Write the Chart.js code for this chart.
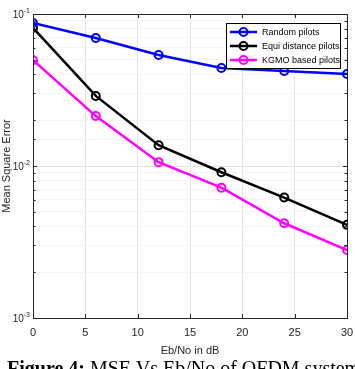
<!DOCTYPE html>
<html>
<head>
<meta charset="utf-8">
<script src="https://cdn.jsdelivr.net/npm/chart.js@4"></script>
<style>
  body { margin: 0; background: #fff; }
  #wrap { position: relative; width: 355px; height: 369px; overflow: hidden; }
  #caption { position: absolute; left: 7px; top: 358px; white-space: nowrap; line-height: 20px;
    font-family: "Liberation Serif", "Times New Roman", serif; font-size: 20px; color: #000; }
</style>
</head>
<body>
<div id="wrap">
  <canvas id="mseChart" width="355" height="369"></canvas>
  <div id="caption"><b>Figure 4:</b> MSE Vs Eb/No of OFDM system</div>
</div>
<script>
// Data
const ebNo = [0, 6, 12, 18, 24, 30];
const randomPilots = [0.0873, 0.0695, 0.0537, 0.0441, 0.0422, 0.0403];
const equiPilots = [0.081, 0.0289, 0.0137, 0.0091, 0.0062, 0.0041];
const kgmoPilots = [0.0497, 0.0213, 0.0106, 0.0072, 0.0042, 0.0028];
const seriesNames = ['Random pilots', 'Equi distance pilots', 'KGMO based pilots'];
const seriesColors = ['#0000ff', '#000000', '#ff00ff'];
const yTickBase = '10';
const yTickExps = { '-1': '-1', '-2': '-2', '-3': '-3' };

const FONT = '"Liberation Sans", Arial, sans-serif';

function makeDataset(i, values) {
  return {
    label: seriesNames[i],
    data: ebNo.map((x, k) => ({ x: x, y: values[k] })),
    borderColor: seriesColors[i],
    backgroundColor: 'rgba(0,0,0,0)',
    pointBorderColor: seriesColors[i],
    pointBackgroundColor: 'rgba(0,0,0,0)',
    borderWidth: 2.5,
    pointRadius: 4,
    pointBorderWidth: 2,
    tension: 0
  };
}

function isMajor(v) {
  const l = Math.log10(v);
  return Math.abs(l - Math.round(l)) < 1e-9;
}

// inward tick marks, box border, power-of-ten labels and legend like MATLAB
const matlabFrame = {
  id: 'matlabFrame',
  afterDraw(chart) {
    const ctx = chart.ctx;
    const a = chart.chartArea;
    const xs = chart.scales.x, ys = chart.scales.y;
    ctx.save();
    ctx.strokeStyle = '#262626';
    ctx.lineWidth = 1;
    ctx.beginPath();
    xs.ticks.forEach(t => {
      const px = Math.round(xs.getPixelForValue(t.value)) + 0.5;
      ctx.moveTo(px, a.bottom); ctx.lineTo(px, a.bottom - 4);
      ctx.moveTo(px, a.top); ctx.lineTo(px, a.top + 4);
    });
    ys.ticks.forEach(t => {
      const py = Math.round(ys.getPixelForValue(t.value)) + 0.5;
      const len = isMajor(t.value) ? 4 : 2.5;
      ctx.moveTo(a.left, py); ctx.lineTo(a.left + len, py);
      ctx.moveTo(a.right, py); ctx.lineTo(a.right - len, py);
    });
    ctx.stroke();
    ctx.strokeRect(Math.round(a.left) + 0.5, Math.round(a.top) + 0.5,
      Math.round(a.right - a.left), Math.round(a.bottom - a.top));

    // y tick labels 10^n
    ctx.fillStyle = '#262626';
    ys.ticks.forEach(t => {
      if (!isMajor(t.value)) return;
      const exp = yTickExps[String(Math.round(Math.log10(t.value)))];
      if (!exp) return;
      const py = ys.getPixelForValue(t.value);
      ctx.font = '7px ' + FONT;
      ctx.textAlign = 'right';
      ctx.textBaseline = 'alphabetic';
      const ew = ctx.measureText(exp).width;
      const right = a.left - 3;
      ctx.fillText(exp, right, py - 1);
      ctx.font = '10px ' + FONT;
      ctx.fillText(yTickBase, right - ew, py + 4);
    });

    // legend box
    const lx = 226, ly = 23, lw = 114, lh = 45;
    ctx.fillStyle = '#fff';
    ctx.fillRect(lx, ly, lw, lh);
    ctx.strokeStyle = '#000';
    ctx.lineWidth = 1;
    ctx.strokeRect(lx + 0.5, ly + 0.5, lw, lh);
    ctx.font = '9px ' + FONT;
    ctx.textAlign = 'left';
    ctx.textBaseline = 'middle';
    chart.data.datasets.forEach((ds, i) => {
      const y = ly + 9 + i * 14;
      ctx.strokeStyle = ds.borderColor;
      ctx.lineWidth = 2.5;
      ctx.beginPath();
      ctx.moveTo(lx + 4, y); ctx.lineTo(lx + 31, y);
      ctx.stroke();
      ctx.lineWidth = 2;
      ctx.beginPath();
      ctx.arc(lx + 17.5, y, 4, 0, Math.PI * 2);
      ctx.stroke();
      ctx.fillStyle = '#000';
      ctx.fillText(ds.label, lx + 36, y + 0.5);
    });
    ctx.restore();
  }
};

new Chart(document.getElementById('mseChart'), {
  type: 'line',
  data: {
    datasets: [
      makeDataset(0, randomPilots),
      makeDataset(1, equiPilots),
      makeDataset(2, kgmoPilots)
    ]
  },
  options: {
    responsive: false,
    animation: false,
    layout: { padding: { top: 14, right: 8, left: 0, bottom: 11 } },
    plugins: { legend: { display: false }, tooltip: { enabled: false } },
    scales: {
      x: {
        type: 'linear',
        min: 0, max: 30,
        border: { display: false },
        ticks: { stepSize: 5, color: '#262626', padding: 8, font: { family: FONT, size: 11 } },
        grid: { color: '#e3e3e3', drawTicks: false },
        title: { display: true, text: 'Eb/No in dB', color: '#262626', padding: { top: 1, bottom: 0 },
          font: { family: FONT, size: 11 } },
        afterFit(s) { s.height = 40; s.paddingLeft = 0; s.paddingRight = 0; }
      },
      y: {
        type: 'logarithmic',
        min: 0.001, max: 0.1,
        border: { display: false },
        ticks: { autoSkip: false, callback: () => '' },
        grid: {
          drawTicks: false,
          color: ctx => isMajor(ctx.tick.value) ? '#e3e3e3' : '#f4f4f4'
        },
        title: { display: true, text: 'Mean Square Error', color: '#262626', padding: 0,
          font: { family: FONT, size: 11 } },
        afterFit(s) { s.width = 33; s.paddingTop = 0; s.paddingBottom = 0; }
      }
    }
  },
  plugins: [matlabFrame]
});
</script>
</body>
</html>
